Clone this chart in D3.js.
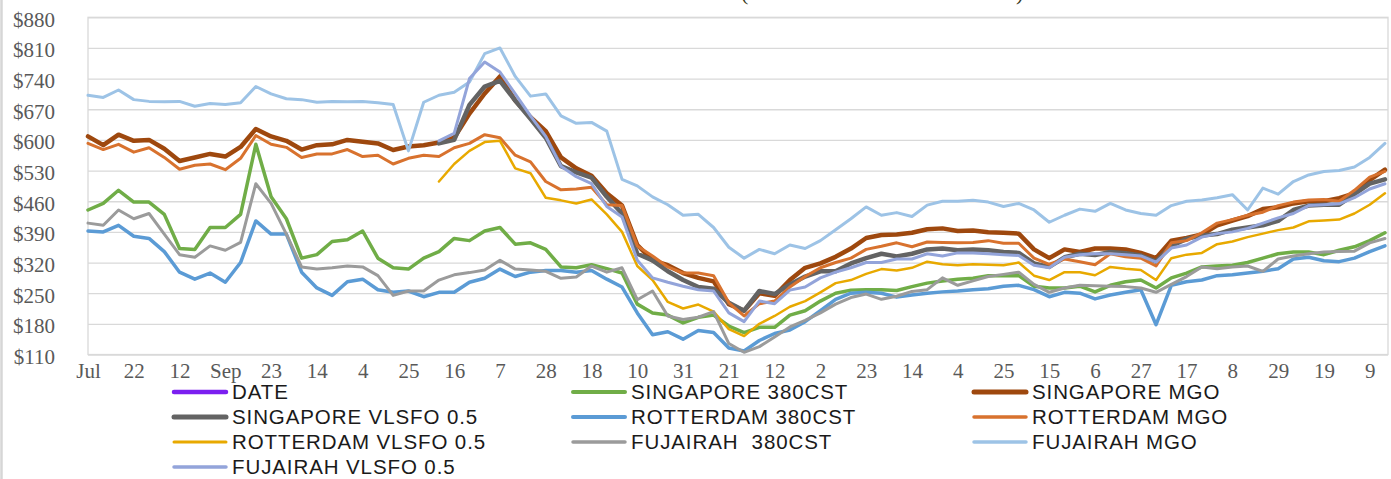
<!DOCTYPE html>
<meta charset="utf-8">
<script src="https://d3js.org/d3.v7.min.js"></script>
<style>
    body { margin: 0; background: #fff; }
    .tick text { font-family: "Liberation Serif", serif; font-size: 21px; fill: #595959; }
    .legend text { font-family: "Liberation Sans", Arial, sans-serif; font-size: 20.5px; letter-spacing: 0.9px; fill: #1a1a1a; white-space: pre; }
</style>
<div id="chart"></div>
<script>
// values sampled every 5 trading days (index 0, 5, 10, ...)
var step = 5;
var nCats = 427;

var xLabels = ["Jul","22","12","Sep","23","14","4","25","16","7","28","18","10","31","21",
               "12","2","23","14","4","25","15","6","27","17","8","29","19","9"];
var yTicks = [110, 180, 250, 320, 390, 460, 530, 600, 670, 740, 810, 880];

var n23 = d3.range(23).map(function() { return null; });

var sing380 = [440,455,485,458,458,430,352,350,400,400, 430,590,470,420,330,338,368,372,392,330,
               308,305,330,345,375,370,392,400,362,365, 350,310,308,315,306,296,225,205,200,182,
               195,200,175,160,172,172,200,210,232,250, 257,258,258,256,265,273,278,282,284,290,
               290,290,266,262,262,266,253,268,276,280, 262,285,296,310,312,314,320,330,340,344,
               344,338,348,356,370,388];
var singMgo = [608,588,612,598,600,580,552,560,568,562, 584,625,608,598,578,588,590,600,596,592,
               577,585,588,594,605,660,706,745,690,652, 620,560,535,518,478,450,360,325,314,296,
               285,277,225,210,250,244,280,308,318,333, 352,376,383,384,388,396,398,392,393,389,
               388,386,350,330,350,344,352,352,350,342, 330,370,376,384,405,416,426,442,446,455,
               460,460,467,478,508,532];
var singVlsfo = n23.concat([592,600,680,722,735,690,648,
               605,540,526,514,470,432,340,325,300,280, 264,260,228,210,255,248,270,288,300,300,
               318,330,340,334,340,350,352,348,350,348, 344,342,318,310,332,340,337,344,341,336,
               322,358,374,382,385,395,400,405,415,440, 450,452,452,476,500,510]);
var rott380 = [392,390,405,380,375,345,298,282,296,275, 320,415,385,385,298,262,245,276,282,258,
               252,255,242,252,252,275,284,305,288,298, 302,302,298,302,282,264,205,155,162,145,
               165,160,125,118,142,158,166,185,210,236, 250,252,250,241,246,250,253,255,258,260,
               266,268,258,242,252,250,237,246,252,258, 178,268,276,280,290,292,296,300,306,328,
               332,324,322,330,345,358];
var rottMgo = [592,578,590,572,582,560,533,542,545,532, 558,610,590,583,560,568,568,578,562,565,
               545,558,565,562,582,592,612,605,565,550, 505,486,488,492,452,450,358,335,310,296,
               296,290,228,198,226,232,264,288,308,320, 330,350,357,365,356,367,366,365,366,370,
               364,364,330,316,328,322,315,340,333,330, 312,365,370,388,410,418,428,435,450,458,
               463,464,460,485,515,528];
var rottVlsfo = n23.concat([505,545,575,595,598,535,524,
               468,462,455,464,430,390,312,280,230,215, 224,208,168,152,180,198,219,232,252,273,
               280,294,305,302,308,322,316,314,316,315, 314,320,290,280,298,298,291,310,306,303,
               280,330,338,342,362,368,378,386,394,400, 414,416,418,432,452,478]);
var fuj380 = [410,405,440,420,432,385,338,332,358,348, 366,500,455,385,310,305,308,312,310,290,
              245,255,255,280,292,297,303,325,305,303, 300,284,287,312,298,308,235,255,198,190,
              195,208,135,115,128,150,173,188,205,225, 240,248,236,243,254,258,285,268,278,288,
              293,298,270,252,262,268,267,266,265,262, 252,270,288,310,306,310,312,300,328,335,
              340,344,345,346,365,375];
var fujMgo = [702,697,714,692,688,687,688,677,683,681, 685,722,705,694,692,686,688,687,688,685,
              681,575,686,702,709,732,797,810,745,700, 705,655,638,640,620,510,495,470,452,428,
              430,400,355,330,350,340,360,352,370,395, 420,447,428,434,425,451,460,460,462,458,
              448,455,440,412,428,442,437,455,440,432, 428,450,460,463,468,475,440,490,476,505,
              520,528,530,538,560,592];
var fujVlsfo = n23.concat([598,615,740,778,755,705,655,
              608,540,516,500,448,424,325,285,275,266, 258,255,205,185,232,226,257,264,285,298,
              308,320,320,328,328,340,335,342,342,340, 338,336,314,308,332,338,340,340,338,335,
              321,353,360,378,386,390,398,410,422,432, 450,452,454,468,488,500]);

var seriesNames = ["DATE", "SINGAPORE 380CST", "SINGAPORE MGO",
                   "SINGAPORE VLSFO 0.5", "ROTTERDAM 380CST", "ROTTERDAM MGO",
                   "ROTTERDAM VLSFO 0.5", "FUJAIRAH  380CST", "FUJAIRAH MGO",
                   "FUJAIRAH VLSFO 0.5"];
var seriesValues = [[], sing380, singMgo, singVlsfo, rott380, rottMgo, rottVlsfo, fuj380, fujMgo, fujVlsfo];
var colors = ["#7b1ff0", "#70ad47", "#9e480e", "#636363", "#5b9bd5", "#d8722e", "#e8a900", "#9b9b9b", "#9dc3e6", "#93a4da"];
var widths = [4, 3.5, 4.5, 4.5, 3.5, 3, 2.5, 3, 3, 3];

var W = 1391, H = 479;
var margin = {top: 17.3, right: 3, bottom: 124.5, left: 88};
var width = W - margin.left - margin.right,
    height = H - margin.top - margin.bottom;

var svg = d3.select("#chart").append("svg")
    .attr("width", W).attr("height", H);

// outer frame edge on the left
svg.append("line").attr("x1", 1.5).attr("x2", 1.5).attr("y1", 0).attr("y2", H)
    .attr("stroke", "#d6d6d6").attr("stroke-width", 2.5);

// bits of the cut off title
svg.append("text").attr("x", 741).attr("y", 0).text("(")
    .style("font-family", "Liberation Serif").style("font-size", "22px").style("fill", "#3a3a20");
svg.append("text").attr("x", 1016).attr("y", 0).text(")")
    .style("font-family", "Liberation Serif").style("font-size", "22px").style("fill", "#3a3a20");

var g = svg.append("g").attr("transform", "translate(" + margin.left + "," + margin.top + ")");

var x = d3.scaleLinear().domain([0, nCats - 1]).range([0, width]);
var y = d3.scaleLinear().domain([110, 880]).range([height, 0]);

// grid
g.append("g")
    .call(d3.axisLeft(y).tickValues(yTicks).tickSize(-width).tickFormat(""))
    .call(function(s) {
        s.select(".domain").remove();
        s.selectAll("line").attr("stroke", "#d9d9d9").attr("stroke-width", 1.3);
    });
g.append("rect").attr("width", width).attr("height", height)
    .attr("fill", "none").attr("stroke", "#d9d9d9").attr("stroke-width", 1.3);

// y axis labels
g.append("g")
    .call(d3.axisLeft(y).tickValues(yTicks).tickSize(0).tickPadding(33)
        .tickFormat(function(d) { return "$" + d; }))
    .call(function(s) {
        s.select(".domain").remove();
        s.selectAll("text").attr("dy", "0.42em");
    });

// x axis labels
g.append("g")
    .attr("transform", "translate(0," + height + ")")
    .call(d3.axisBottom(x).tickValues(d3.range(0, 421, 15)).tickSize(0).tickPadding(9)
        .tickFormat(function(d, i) { return xLabels[i]; }))
    .call(function(s) { s.select(".domain").remove(); });

// lines
var line = d3.line()
    .defined(function(d) { return d != null; })
    .x(function(d, i) { return x(i * step); })
    .y(function(d) { return y(d); })
    .curve(d3.curveLinear);

seriesValues.forEach(function(vals, si) {
    if (!vals.length) return;
    g.append("path")
        .datum(vals)
        .attr("fill", "none")
        .attr("stroke", colors[si])
        .attr("stroke-width", widths[si])
        .attr("stroke-linejoin", "round")
        .attr("stroke-linecap", "round")
        .attr("d", line);
});

// legend, 3 columns
var colX = [172, 571, 972];
var rowY = [392, 417, 442, 467];
var legend = svg.append("g").attr("class", "legend");
seriesNames.forEach(function(name, i) {
    var cx = colX[i % 3], cy = rowY[Math.floor(i / 3)];
    legend.append("line")
        .attr("x1", cx + 2).attr("x2", cx + 54).attr("y1", cy).attr("y2", cy)
        .attr("stroke", colors[i]).attr("stroke-width", widths[i] + 0.5)
        .attr("stroke-linecap", "round");
    legend.append("text")
        .attr("x", cx + 60).attr("y", cy).attr("dy", "0.36em")
        .text(name);
});
</script>
